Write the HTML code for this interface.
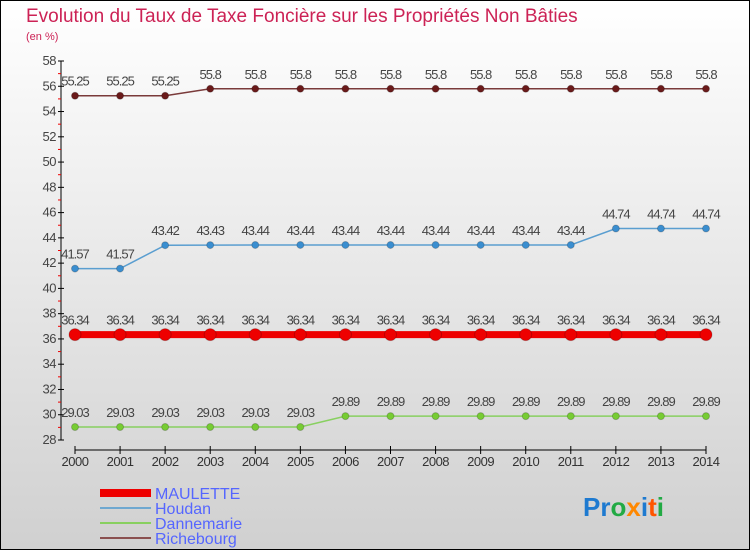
<!DOCTYPE html>
<html><head><meta charset="utf-8"><style>
body{margin:0;width:750px;height:550px;overflow:hidden}
svg{display:block;font-family:"Liberation Sans",sans-serif}
</style></head><body>
<svg id="c" width="750" height="550">
<defs><linearGradient id="bg" x1="0" y1="0" x2="0" y2="1"><stop offset="0" stop-color="#ffffff"/><stop offset="1" stop-color="#d0d0d0"/></linearGradient></defs>
<rect x="0.5" y="0.5" width="749" height="549" fill="url(#bg)" stroke="#000"/>
<text x="26" y="22" font-size="19" fill="#cc2255">Evolution du Taux de Taxe Foncière sur les Propriétés Non Bâties</text>
<text x="26" y="40" font-size="11" fill="#cc2255">(en %)</text>
<g id="axes"></g><g id="series"></g>
<g font-size="16" fill="#5566ff">
<rect x="100" y="489" width="51" height="8" fill="#ee0000"/>
<text x="155" y="499">MAULETTE</text>
<rect x="100" y="507" width="51" height="2" fill="#6fa8d0"/>
<text x="155" y="514">Houdan</text>
<rect x="100" y="522" width="51" height="2" fill="#88d060"/>
<text x="155" y="529">Dannemarie</text>
<rect x="100" y="537" width="51" height="2" fill="#8a5050"/>
<text x="155" y="544">Richebourg</text>
</g>
<text x="583" y="516" font-size="26" font-weight="bold"><tspan fill="#1e7ad0">Pr</tspan><tspan fill="#22aa44">o</tspan><tspan fill="#ff8800">x</tspan><tspan fill="#1e7ad0">i</tspan><tspan fill="#ff5500">t</tspan><tspan fill="#22aa44">i</tspan></text>
</svg>
<script>
const years=[2000,2001,2002,2003,2004,2005,2006,2007,2008,2009,2010,2011,2012,2013,2014];
const yTicks=[28,30,32,34,36,38,40,42,44,46,48,50,52,54,56,58];
const maulette=[36.34,36.34,36.34,36.34,36.34,36.34,36.34,36.34,36.34,36.34,36.34,36.34,36.34,36.34,36.34];
const houdan=[41.57,41.57,43.42,43.43,43.44,43.44,43.44,43.44,43.44,43.44,43.44,43.44,44.74,44.74,44.74];
const dannemarie=[29.03,29.03,29.03,29.03,29.03,29.03,29.89,29.89,29.89,29.89,29.89,29.89,29.89,29.89,29.89];
const richebourg=[55.25,55.25,55.25,55.8,55.8,55.8,55.8,55.8,55.8,55.8,55.8,55.8,55.8,55.8,55.8];
const NS='http://www.w3.org/2000/svg';
const X=i=>75+i*(706-75)/(years.length-1);
const Y=v=>61+(58-v)*(440-61)/30;
function mk(t,a,p){const e=document.createElementNS(NS,t);for(const k in a)e.setAttribute(k,a[k]);p.appendChild(e);return e;}
const ax=document.getElementById('axes');
const yl=mk('line',{x1:61,y1:Y(58),x2:61,y2:Y(28),stroke:'#000'},ax);


yTicks.forEach(v=>{
  mk('line',{x1:58,y1:Y(v),x2:64,y2:Y(v),stroke:'#000'},ax);
  if(v<58){mk('line',{x1:58,y1:Y(v+1),x2:61,y2:Y(v+1),stroke:'#ee0000'},ax);}
  const t=mk('text',{x:56,y:Y(v)+4,'text-anchor':'end','font-size':13,fill:'#444','letter-spacing':'-0.5'},ax);
  t.textContent=v;
  
  
});
const xl=mk('line',{x1:X(0),y1:450,x2:X(years.length-1),y2:450,stroke:'#000'},ax);


years.forEach((y,i)=>{
  mk('line',{x1:X(i),y1:446,x2:X(i),y2:454,stroke:'#000'},ax);
  const t=mk('text',{x:X(i),y:466,'text-anchor':'middle','font-size':13,fill:'#333','letter-spacing':'-0.5'},ax);
  t.textContent=y;
  
  
});
const sg=document.getElementById('series');
function series(vals,name,col,lw,r,dot){
  const g=mk('g',{},sg);
  
  
  const pl=mk('polyline',{points:vals.map((v,i)=>X(i)+','+Y(v)).join(' '),fill:'none',stroke:col,'stroke-width':lw},g);
  
  
  vals.forEach((v,i)=>{
    const c=mk('circle',{cx:X(i),cy:Y(v),r:r,fill:dot,stroke:'#00000033'},g);
    
    
    const t=mk('text',{x:X(i),y:Y(v)-10,'text-anchor':'middle','font-size':13,fill:'#444','letter-spacing':'-1'},g);
    t.textContent=v;
    
    
  });
}
series(richebourg,'richebourg','#7a3a3a',1.5,3.5,'#6a1a1a');
series(houdan,'houdan','#5a9ed0',1.5,3.5,'#3a8ed0');
series(dannemarie,'dannemarie','#88d060',1.5,3.5,'#77cc33');
series(maulette,'maulette','#ee0000',7,6,'#ee0000');
</script>
</body></html>
